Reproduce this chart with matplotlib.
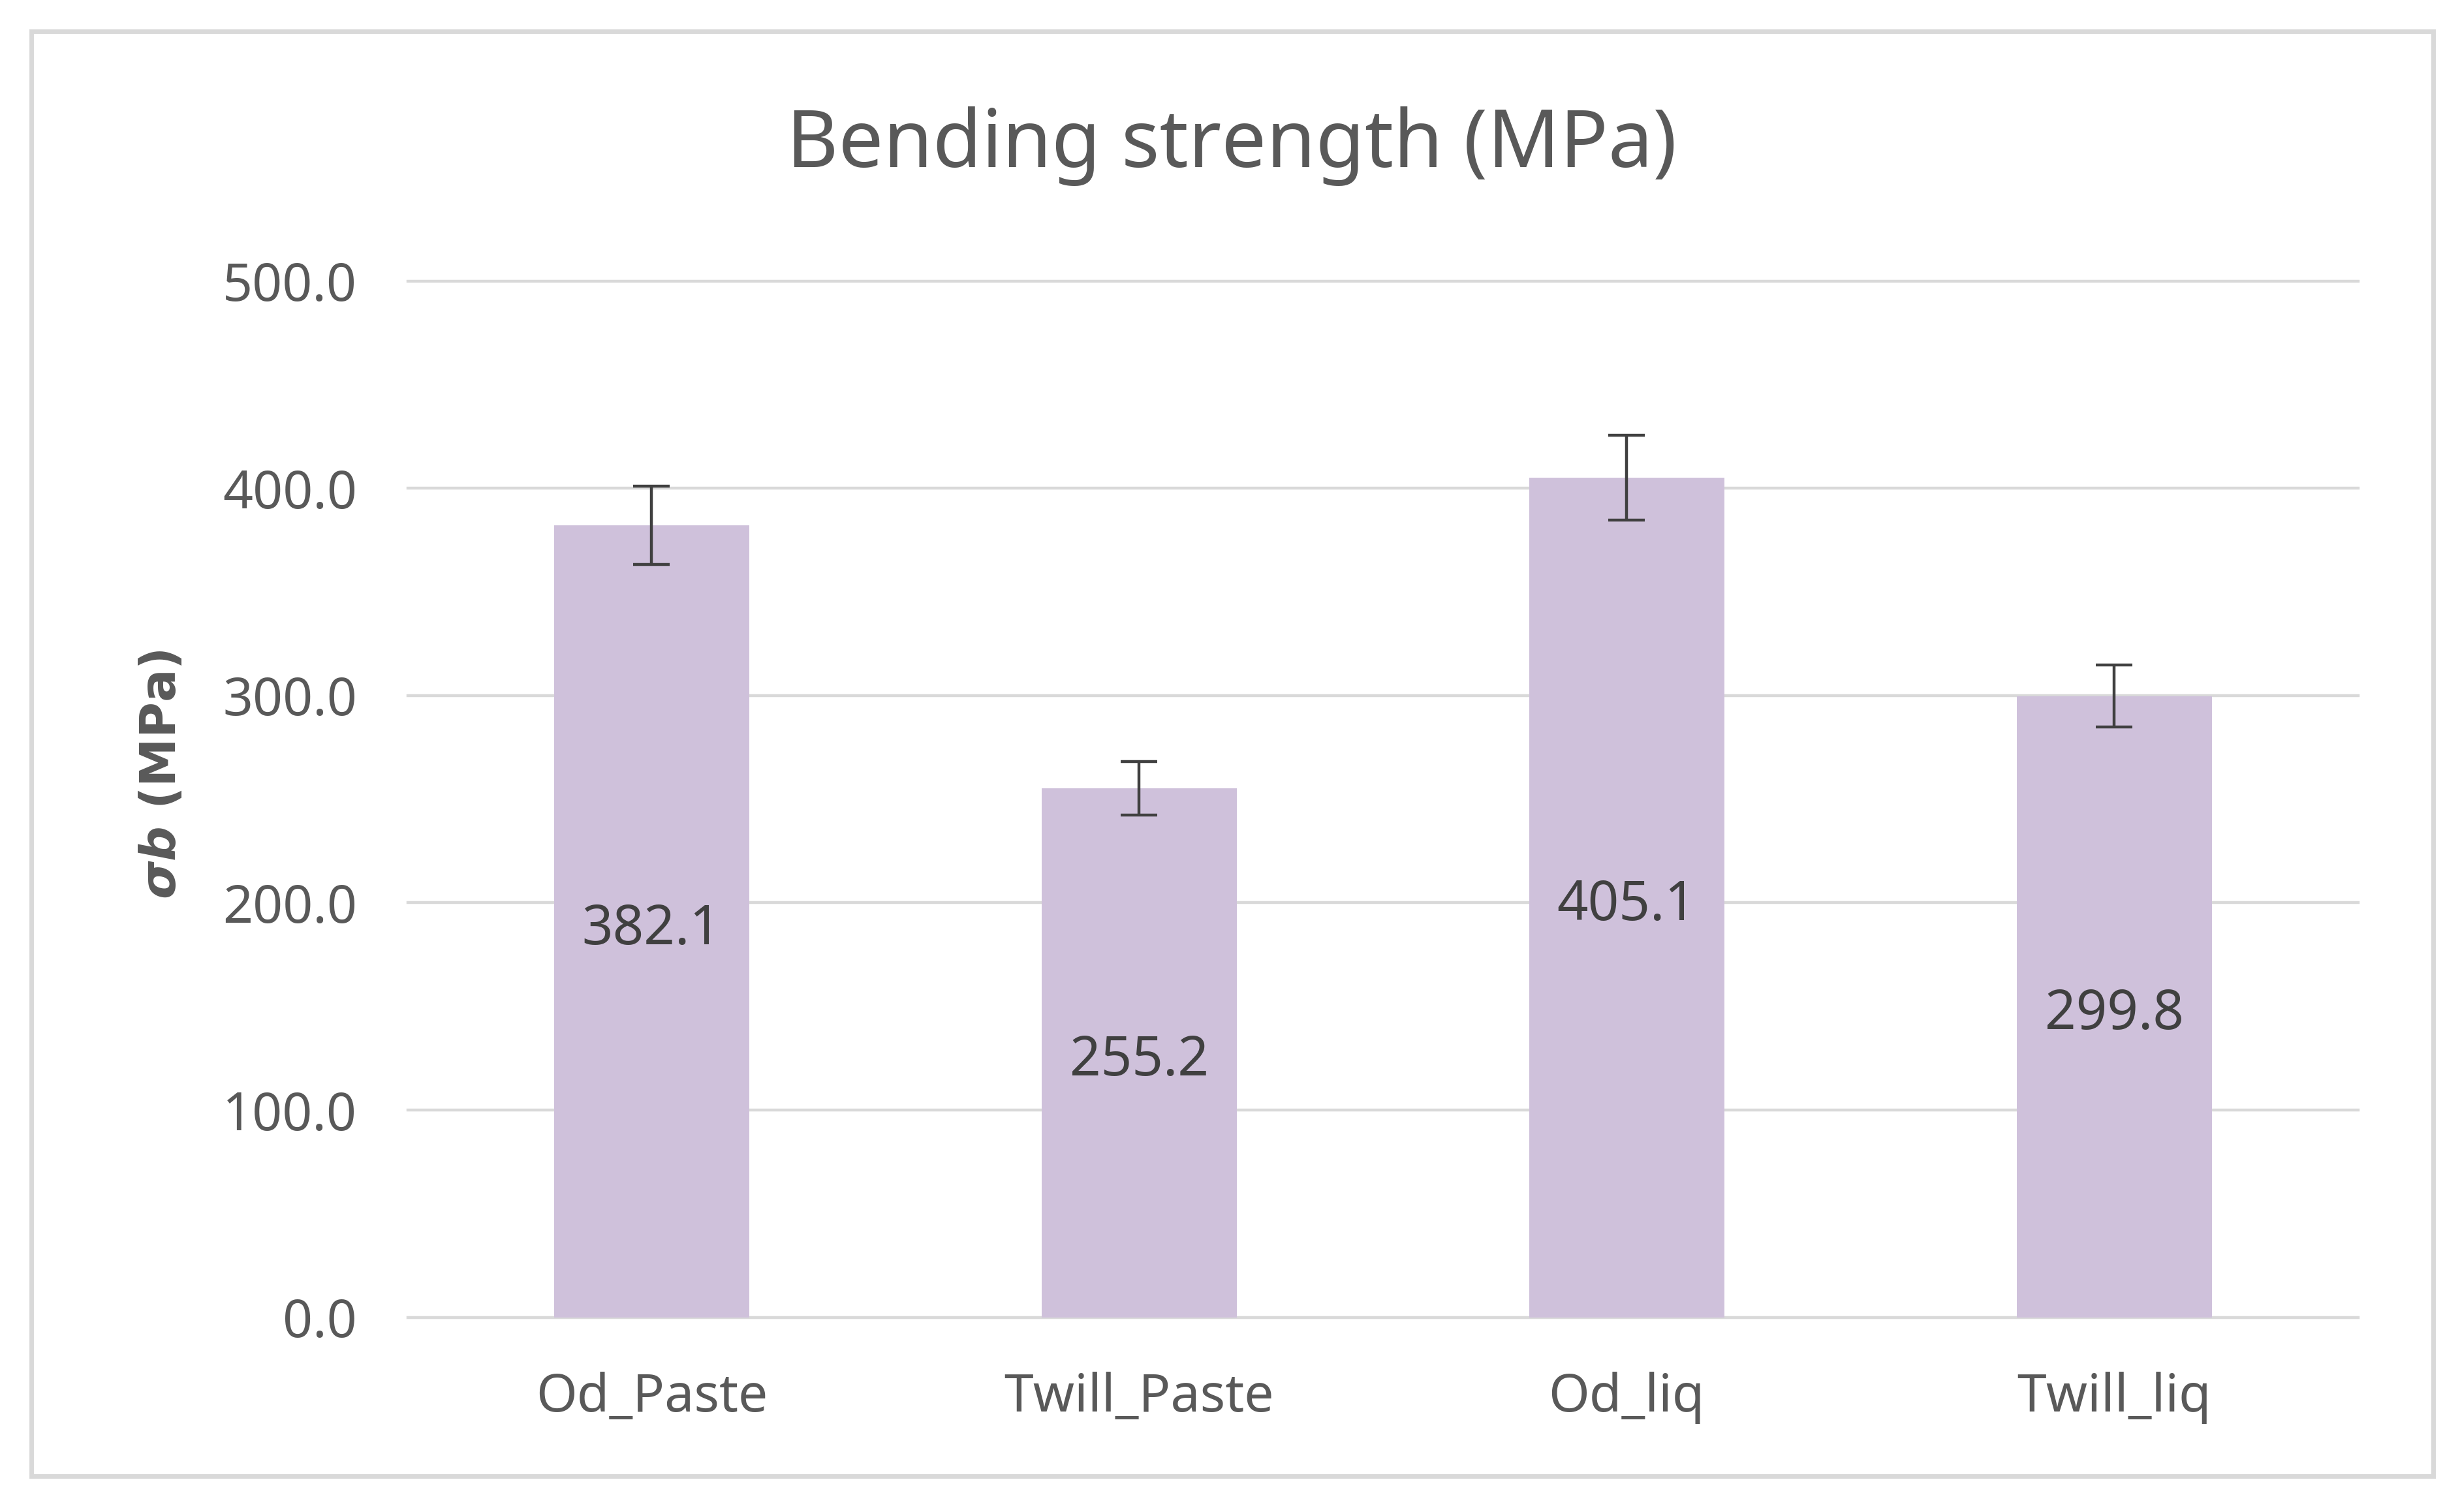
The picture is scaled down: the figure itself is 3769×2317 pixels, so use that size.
import matplotlib
matplotlib.use("Agg")
import matplotlib.pyplot as plt
from matplotlib.patches import Rectangle

# data
categories = ["Od_Paste", "Twill_Paste", "Od_liq", "Twill_liq"]
strength = [382.1, 255.2, 405.1, 299.8]
errors = [19.0, 13.0, 20.5, 15.0]
y_ticks = [0, 100, 200, 300, 400, 500]

plt.rcParams['font.family'] = ['Noto Sans', 'DejaVu Sans']
plt.rcParams['mathtext.fontset'] = 'custom'
plt.rcParams['mathtext.it'] = 'DejaVu Sans:italic:bold'
plt.rcParams['mathtext.rm'] = 'DejaVu Sans:bold'

bar_color = '#cfc1db'
text_grey = '#595959'
grid_grey = '#d9d9d9'

fig = plt.figure(figsize=(18.845, 11.585), dpi=200)
ax = fig.add_axes([0.1658, 0.1288, 0.7927, 0.6853])

x = range(len(categories))
ax.bar(x, strength, width=0.4, color=bar_color, zorder=2)
ax.errorbar(x, strength, yerr=errors, fmt='none', ecolor='#404040',
            elinewidth=1.6, capsize=10, capthick=1.6, zorder=3)

# value labels in the middle of each bar
for i, v in enumerate(strength):
    ax.text(i, v / 2 - 4, f"{v:.1f}", ha='center', va='center',
            fontsize=30, color='#404040', zorder=4)

ax.set_xlim(-0.5, len(categories) - 0.5)
ax.set_ylim(0, 500)
ax.set_yticks(y_ticks)
ax.set_yticklabels([f"{t:.1f}" for t in y_ticks])
ax.set_xticks(list(x))
ax.set_xticklabels(categories)
ax.tick_params(axis='y', length=0, pad=28, labelsize=29, labelcolor=text_grey)
ax.tick_params(axis='x', length=0, pad=30, labelsize=29, labelcolor=text_grey)

for t in y_ticks:
    ax.axhline(t, color=grid_grey, linewidth=1.6, zorder=1, clip_on=False)
for s in ax.spines.values():
    s.set_visible(False)

fig.text(0.5006, 0.9034, "Bending strength (MPa)", ha='center', va='center',
         fontsize=44, color=text_grey)
fig.text(0.066, 0.488, r"$σb$ (MPa)", rotation=90, ha='center', va='center',
         fontsize=27, fontweight='bold', family='DejaVu Sans', color=text_grey)

# chart border
fig.patches.append(Rectangle((0.0128, 0.0239), 0.9762, 0.9553, transform=fig.transFigure,
                             fill=False, edgecolor=grid_grey, linewidth=2.5))

fig.savefig("out.png", dpi=200, facecolor='white')
